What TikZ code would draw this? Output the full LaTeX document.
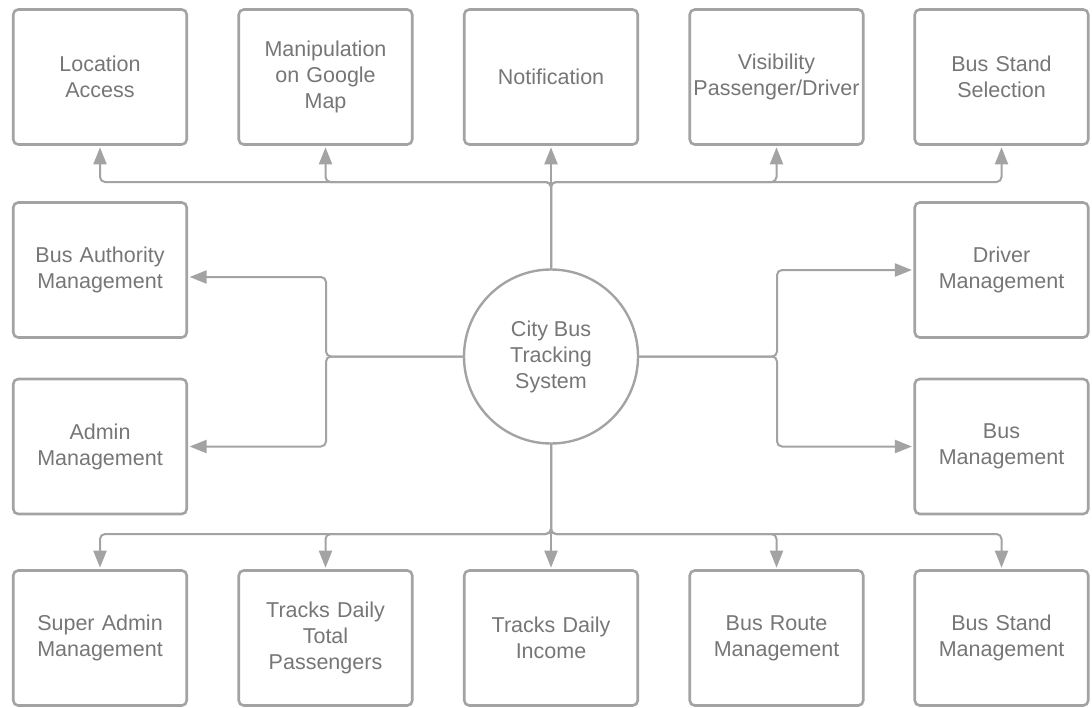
\documentclass[tikz,border=0pt]{standalone}
\usepackage{fontspec}
\setmainfont{Liberation Sans}
\usetikzlibrary{arrows.meta}
\definecolor{edgegray}{HTML}{A3A3A3}
\definecolor{textgray}{HTML}{767676}
\begin{document}
\begin{tikzpicture}[x=1pt,y=-1pt,
  label font/.style={text=textgray, font=\fontsize{21.5}{26}\selectfont},
  box/.style={draw=edgegray, line width=2.6pt, rounded corners=5pt,
    minimum width=173.5pt, minimum height=135pt, inner sep=0pt,
    text width=172pt, align=center, label font},
  hub/.style={circle, draw=edgegray, line width=2.4pt, minimum size=174pt,
    inner sep=0pt, align=center, label font},
  link/.style={draw=edgegray, line width=2pt, rounded corners=5pt,
    -{Triangle[length=17pt,width=13pt]}, shorten >=1.5pt}]

\useasboundingbox (0,0) rectangle (1092,707);

% central system
\node[hub] (hub) at (551,356.5) {City Bus\\Tracking\\System};

% top row
\node[box] (loc)  at (100,77)    {Location\\Access};
\node[box] (map)  at (325.5,77)  {Manipulation\\on Google\\Map};
\node[box] (note) at (551,77)    {Notification};
\node[box] (vis)  at (776.5,77)  {Visibility\\Passenger/Driver};
\node[box] (sel)  at (1001.5,77) {Bus Stand\\Selection};

% left column
\node[box] (auth)  at (100,270)   {Bus Authority\\Management};
\node[box] (admin) at (100,446.5) {Admin\\Management};

% right column
\node[box] (driver) at (1001.5,270)   {Driver\\Management};
\node[box] (bus)    at (1001.5,446.5) {Bus\\Management};

% bottom row
\node[box] (super)  at (100,638)    {Super Admin\\Management};
\node[box] (pass)   at (325.5,638)  {Tracks Daily\\Total\\Passengers};
\node[box] (income) at (551,638)    {Tracks Daily\\Income};
\node[box] (route)  at (776.5,638)  {Bus Route\\Management};
\node[box] (stand)  at (1001.5,638) {Bus Stand\\Management};

% bus-line junctions
\coordinate (tbus) at (551,182);
\coordinate (bbus) at (551,534);
\coordinate (lbus) at (326,356.5);
\coordinate (rbus) at (777,356.5);

% upward branches
\draw[link] (hub.north) -- (tbus) -| (loc.south);
\draw[link] (hub.north) -- (tbus) -| (map.south);
\draw[link] (hub.north) -- (note.south);
\draw[link] (hub.north) -- (tbus) -| (vis.south);
\draw[link] (hub.north) -- (tbus) -| (sel.south);

% left branches
\draw[link] (hub.west) -- (lbus) |- ([yshift=-7pt]auth.east);
\draw[link] (hub.west) -- (lbus) |- (admin.east);

% right branches
\draw[link] (hub.east) -- (rbus) |- (driver.west);
\draw[link] (hub.east) -- (rbus) |- (bus.west);

% downward branches
\draw[link] (hub.south) -- (bbus) -| (super.north);
\draw[link] (hub.south) -- (bbus) -| (pass.north);
\draw[link] (hub.south) -- (income.north);
\draw[link] (hub.south) -- (bbus) -| (route.north);
\draw[link] (hub.south) -- (bbus) -| (stand.north);
\end{tikzpicture}
\end{document}
